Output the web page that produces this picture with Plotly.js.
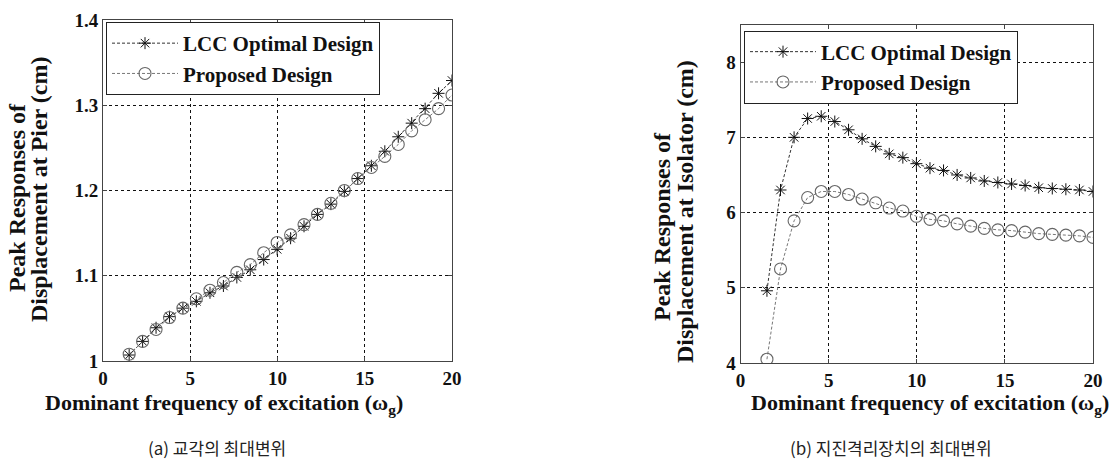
<!DOCTYPE html>
<html>
<head>
<meta charset="utf-8">
<script src="https://cdn.plot.ly/plotly-3.0.1.min.js"></script>
<style>html,body{margin:0;padding:0;background:#fff;}#chart{width:1119px;height:468px;}</style>
</head>
<body>
<div id="chart"></div>
<script>
// Dominant frequency of excitation (omega_g)
var freq = [1.50, 2.27, 3.04, 3.81, 4.58, 5.35, 6.13, 6.90, 7.67, 8.44, 9.21, 9.98, 10.75,
            11.52, 12.29, 13.06, 13.83, 14.60, 15.38, 16.15, 16.92, 17.69, 18.46, 19.23, 20.00];

// (a) Pier displacement (cm)
var pierLCC = [1.007, 1.023, 1.039, 1.052, 1.062, 1.070, 1.080, 1.088, 1.098, 1.107, 1.119, 1.131, 1.144,
               1.158, 1.172, 1.184, 1.199, 1.214, 1.229, 1.246, 1.263, 1.279, 1.296, 1.314, 1.329];
var pierProp = [1.008, 1.023, 1.037, 1.051, 1.062, 1.073, 1.083, 1.092, 1.104, 1.113, 1.127, 1.139, 1.148,
                1.160, 1.172, 1.185, 1.200, 1.214, 1.227, 1.240, 1.254, 1.270, 1.283, 1.296, 1.312];

// (b) Isolator displacement (cm)
var isoLCC = [4.96, 6.30, 7.00, 7.25, 7.28, 7.21, 7.10, 6.98, 6.88, 6.78, 6.73, 6.65, 6.59,
              6.56, 6.50, 6.46, 6.42, 6.40, 6.38, 6.36, 6.33, 6.32, 6.31, 6.30, 6.28];
var isoProp = [4.05, 5.25, 5.89, 6.20, 6.28, 6.28, 6.24, 6.18, 6.13, 6.06, 6.02, 5.95, 5.91,
               5.89, 5.85, 5.82, 5.79, 5.77, 5.76, 5.74, 5.72, 5.71, 5.70, 5.69, 5.67];

var seriesNames = ['LCC Optimal Design', 'Proposed Design'];
var xTickVals = [0, 5, 10, 15, 20];
var pierTicks = [1, 1.1, 1.2, 1.3, 1.4];
var isoTicks = [4, 5, 6, 7, 8];

var W = 1119, H = 468;
var serif = '"Liberation Serif", "Times New Roman", serif';

function lccTrace(y, xa, ya, lg) {
  return {x: freq, y: y, xaxis: xa, yaxis: ya, legend: lg, name: seriesNames[0], type: 'scatter',
    mode: 'lines+markers',
    line: {color: '#333', width: 1, dash: '3px,2px'},
    marker: {symbol: 'asterisk-open', size: 10, color: '#111', line: {color: '#111', width: 1}}};
}
function propTrace(y, xa, ya, lg) {
  return {x: freq, y: y, xaxis: xa, yaxis: ya, legend: lg, name: seriesNames[1], type: 'scatter',
    mode: 'lines+markers',
    line: {color: '#777', width: 1, dash: '3px,2px'},
    marker: {symbol: 'circle-open', size: 12, color: '#666', line: {color: '#666', width: 1.1}}};
}

var data = [
  lccTrace(pierLCC, 'x', 'y', 'legend'),
  propTrace(pierProp, 'x', 'y', 'legend'),
  lccTrace(isoLCC, 'x2', 'y2', 'legend2'),
  propTrace(isoProp, 'x2', 'y2', 'legend2')
];

function axisBase(dom, rng, ticks, anchor) {
  return {domain: dom, range: rng, tickvals: ticks, anchor: anchor,
    showgrid: true, gridcolor: '#111', griddash: '3px,3px', gridwidth: 1,
    zeroline: false, showline: true, linecolor: '#444', linewidth: 1, mirror: 'ticks',
    ticks: 'inside', ticklen: 4, tickcolor: '#444',
    tickfont: {family: serif, size: 19, color: '#111', weight: 'bold'}, fixedrange: true};
}

var legendFont = {family: serif, size: 21, color: '#111', weight: 'bold'};
var titleFont = {family: serif, size: 22, color: '#111', weight: 'bold'};
var yTitleFont = {family: serif, size: 24, color: '#111', weight: 'bold'};
var capFont = {family: '"Noto Sans CJK KR", "Noto Sans", sans-serif', size: 17, color: '#222'};

var layout = {
  width: W, height: H,
  margin: {l: 0, r: 0, t: 0, b: 0},
  paper_bgcolor: '#fff', plot_bgcolor: '#fff',
  showlegend: true,
  xaxis: axisBase([103/W, 452/W], [0, 20], xTickVals, 'y'),
  yaxis: axisBase([1 - 361/H, 1 - 20/H], [1, 1.4], pierTicks, 'x'),
  xaxis2: axisBase([740.5/W, 1093/W], [0, 20], xTickVals, 'y2'),
  yaxis2: axisBase([1 - 363/H, 1 - 24.5/H], [4, 8.5], isoTicks, 'x2'),
  legend: {x: 106/W, y: 1 - 22/H, xanchor: 'left', yanchor: 'top', bgcolor: '#fff',
    bordercolor: '#222', borderwidth: 1, font: legendFont, itemwidth: 66, tracegroupgap: 0},
  legend2: {x: 744/W, y: 1 - 30.5/H, xanchor: 'left', yanchor: 'top', bgcolor: '#fff',
    bordercolor: '#222', borderwidth: 1, font: legendFont, itemwidth: 66, tracegroupgap: 0},
  annotations: [
    {xref: 'paper', yref: 'paper', x: 224/W, y: 1 - 404/H, xanchor: 'center', yanchor: 'middle', showarrow: false,
     text: 'Dominant frequency of excitation (ω<sub>g</sub>)', font: titleFont},
    {xref: 'paper', yref: 'paper', x: 930/W, y: 1 - 404/H, xanchor: 'center', yanchor: 'middle', showarrow: false,
     text: 'Dominant frequency of excitation (ω<sub>g</sub>)', font: titleFont},
    {xref: 'paper', yref: 'paper', x: 17/W, y: 1 - 198/H, xanchor: 'center', yanchor: 'middle', showarrow: false, textangle: -90,
     text: 'Peak Responses of', font: yTitleFont},
    {xref: 'paper', yref: 'paper', x: 39/W, y: 1 - 190/H, xanchor: 'center', yanchor: 'middle', showarrow: false, textangle: -90,
     text: 'Displacement at Pier (cm)', font: yTitleFont},
    {xref: 'paper', yref: 'paper', x: 662/W, y: 1 - 227/H, xanchor: 'center', yanchor: 'middle', showarrow: false, textangle: -90,
     text: 'Peak Responses of', font: yTitleFont},
    {xref: 'paper', yref: 'paper', x: 685/W, y: 1 - 212/H, xanchor: 'center', yanchor: 'middle', showarrow: false, textangle: -90,
     text: 'Displacement at Isolator (cm)', font: yTitleFont},
    {xref: 'paper', yref: 'paper', x: 217/W, y: 1 - 447/H, xanchor: 'center', yanchor: 'middle', showarrow: false,
     text: '(a) 교각의 최대변위', font: capFont},
    {xref: 'paper', yref: 'paper', x: 891/W, y: 1 - 447/H, xanchor: 'center', yanchor: 'middle', showarrow: false,
     text: '(b) 지진격리장치의 최대변위', font: capFont}
  ]
};

Plotly.newPlot('chart', data, layout, {displayModeBar: false, staticPlot: true});
</script>
</body>
</html>
